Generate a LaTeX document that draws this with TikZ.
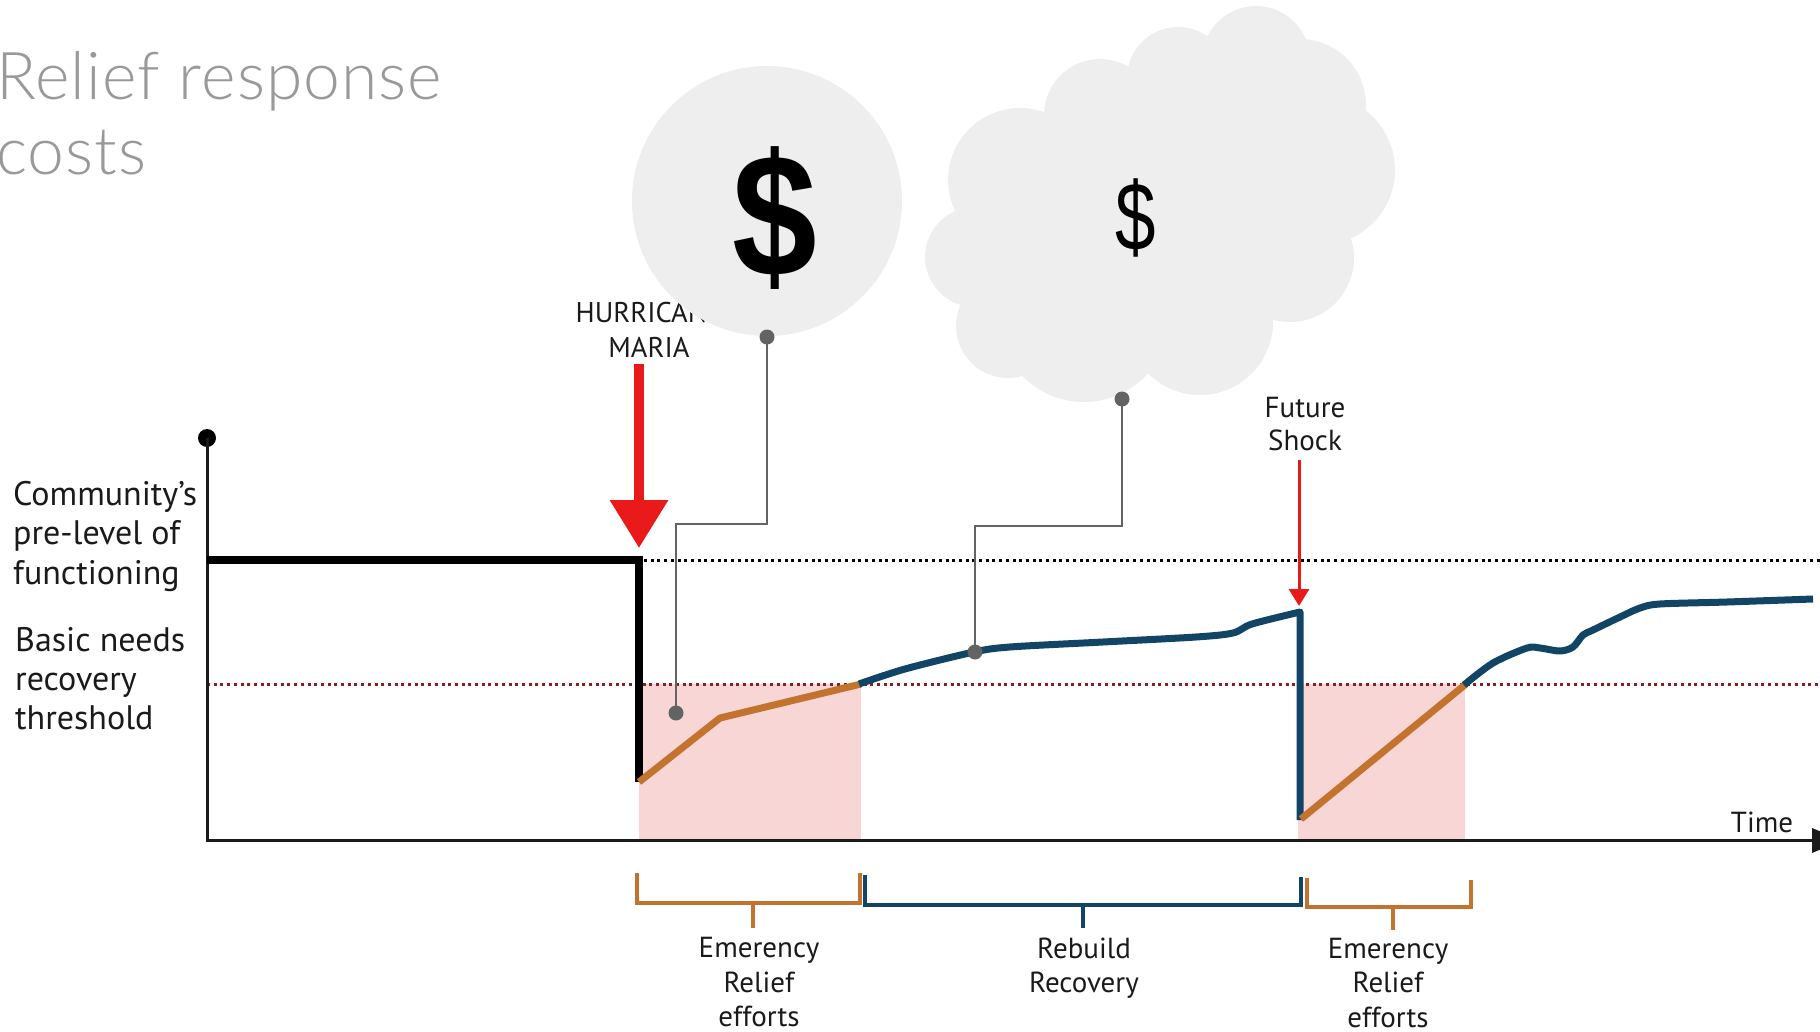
\documentclass[tikz,border=0pt]{standalone}
\usepackage{fontspec}
\setmainfont{PT Sans}
\newfontfamily\titlefont{Lato Light}[LetterSpace=1.6]
\newfontfamily\dollarfont{Liberation Sans}
\usetikzlibrary{arrows.meta}
\newcommand\myfs[1]{\fontsize{#1}{#1}\selectfont}
\definecolor{navy}{HTML}{124466}
\definecolor{rust}{HTML}{C2742F}
\definecolor{blush}{HTML}{F9D6D6}
\definecolor{cloudgray}{HTML}{EEEEEE}
\definecolor{pinline}{HTML}{636363}
\definecolor{alarm}{HTML}{EA1A1A}
\definecolor{maroon}{HTML}{8A1F1F}
\definecolor{titlegray}{HTML}{999999}
\definecolor{ink}{HTML}{1A1A1A}
\begin{document}
\begin{tikzpicture}[x=1pt,y=-1pt,
  txt/.style={inner sep=0, text=ink, anchor=base},
  leftlbl/.style={inner sep=0, text=ink, anchor=base west, font=\myfs{34}},
  brlbl/.style={txt, font=\myfs{29}},
  pin/.style={draw=pinline, line width=2.5pt},
  pindot/.style={circle, fill=pinline, inner sep=0, minimum size=15pt},
  brk/.style={line width=4pt, line cap=butt},
  dotline/.style={line width=3pt, dash pattern=on 3pt off 3.7pt},
  curve/.style={line width=7pt, line join=round},
]
\useasboundingbox (0,0) rectangle (1820,1032);

% title
\node[anchor=base west, inner sep=0, text=titlegray, font=\titlefont\myfs{66}] (title1) at (-4,100) {Relief response};
\node[anchor=base west, inner sep=0, text=titlegray, font=\titlefont\myfs{66}] (title2) at (-4,175) {costs};

% pink regions
\fill[blush] (639,684) rectangle (861,840);
\fill[blush] (1298,684) rectangle (1465,840);

% reference levels
\draw[dotline, black] (644,560) -- (1820,560);
\draw[dotline, maroon] (207,684) -- (1820,684);

% axes
\node[circle, fill=black, inner sep=0, minimum size=18pt] (topdot) at (207,438) {};
\coordinate (origin) at (207,840);
\coordinate (xend) at (1816,840);
\draw[line width=3pt, ink] (topdot.center) -- (origin) -- (xend);
\fill[ink] (1812,828) -- (1842,840.5) -- (1812,853) -- cycle;
\node[txt, font=\myfs{29}] (time) at (1762,832) {Time};

% left labels
\node[leftlbl] (l1) at (13,505) {Community’s};
\node[leftlbl] (l2) at (13,544) {pre-level of};
\node[leftlbl] (l3) at (13,584) {functioning};
\node[leftlbl] (l4) at (15,651) {Basic needs};
\node[leftlbl] (l5) at (15,690) {recovery};
\node[leftlbl] (l6) at (15,729) {threshold};

% curves
\draw[line width=8pt, black, line join=miter] (207,560) -- (639,560) -- (639,782);
\draw[curve, rust] (639,782) -- (720,718) -- (861,684);
\draw[curve, navy] plot[smooth, tension=0.5] coordinates {(859,684) (905,669) (974,652) (1010,647) (1103,642) (1196,637) (1233,633) (1252,624) (1300,612)} -- (1300,820);
\draw[curve, rust] (1301,819) -- (1466,684);
\draw[curve, navy] plot[smooth, tension=0.5] coordinates {(1464,685) (1493,663) (1527,648) (1540,648) (1560,651) (1573,647) (1583,635) (1593,630) (1620,617) (1640,608) (1660,604) (1727,602) (1813,599)};

% hurricane label and arrow
\node[txt, font=\myfs{28.5}] (hur1) at (649,322) {HURRICANE};
\node[txt, font=\myfs{28.5}] (hur2) at (649,357) {MARIA};
\coordinate (hurtop) at (639,364);
\coordinate (hurtip) at (639,548);
\draw[alarm, line width=10pt, -{Triangle[width=56pt,length=48pt]}] (hurtop) -- (hurtip);

% future shock
\node[txt, font=\myfs{29}] (fs1) at (1305,417) {Future};
\node[txt, font=\myfs{29}] (fs2) at (1305,450) {Shock};
\coordinate (fstop) at (1299,460);
\coordinate (fstip) at (1299,606);
\draw[alarm, line width=3pt, -{Triangle[width=20pt,length=17pt]}] (fstop) -- (fstip);

% balloon (circle)
\node[circle, fill=cloudgray, inner sep=0, minimum size=270pt] (balloon) at (767,201) {};
\node[inner sep=0, anchor=center, font=\dollarfont\bfseries\myfs{175}] (bigdollar) at (775,218) {\scalebox{0.87}[1]{\$}};
\node[pindot] (bdot) at (767,337) {};
\node[pindot] (bend) at (676,713) {};
\draw[pin] (bdot.center) -- (767,524) -- (bend.center |- 0,524) -- (bend.center);

% cloud
\begin{scope}[cloudgray]
\fill (1256,60) circle[radius=54];
\fill (1178,78) circle[radius=51];
\fill (1100,115) circle[radius=56];
\fill (1020,180) circle[radius=72];
\fill (975,257) circle[radius=50];
\fill (1008,326) circle[radius=52];
\fill (1084,316) circle[radius=86];
\fill (1200,322) circle[radius=73];
\fill (1290,258) circle[radius=64];
\fill (1320,170) circle[radius=75];
\fill (1300,105) circle[radius=66];
\fill (1150,220) circle[radius=140];
\end{scope}
\node[inner sep=0, anchor=center, font=\dollarfont\myfs{97}] (smalldollar) at (1136,218) {\scalebox{0.75}[1]{\$}};
\node[pindot] (cdot) at (1122,399) {};
\node[pindot] (cend) at (975,652) {};
\draw[pin] (cdot.center) -- (1122,526) -- (cend.center |- 0,526) -- (cend.center);

% brackets
\draw[brk, rust] (637,873) -- (637,903) -- (860,903) -- (860,873);
\coordinate (t1) at (753,903);
\draw[brk, rust] (t1) -- ++(0,25);
\draw[brk, navy] (865,875) -- (865,905) -- (1301,905) -- (1301,877);
\coordinate (t2) at (1083,905);
\draw[brk, navy] (t2) -- ++(0,23);
\draw[brk, rust] (1307,878) -- (1307,907) -- (1471,907) -- (1471,880);
\coordinate (t3) at (1393,907);
\draw[brk, rust] (t3) -- ++(0,23);

% bracket labels
\node[brlbl] (e1a) at (759,957) {Emerency};
\node[brlbl] (e1b) at (759,992) {Relief};
\node[brlbl] (e1c) at (759,1026) {efforts};
\node[brlbl] (r1) at (1084,958) {Rebuild};
\node[brlbl] (r2) at (1084,992) {Recovery};
\node[brlbl] (e2a) at (1388,958) {Emerency};
\node[brlbl] (e2b) at (1388,992) {Relief};
\node[brlbl] (e2c) at (1388,1027) {efforts};
\end{tikzpicture}
\end{document}
